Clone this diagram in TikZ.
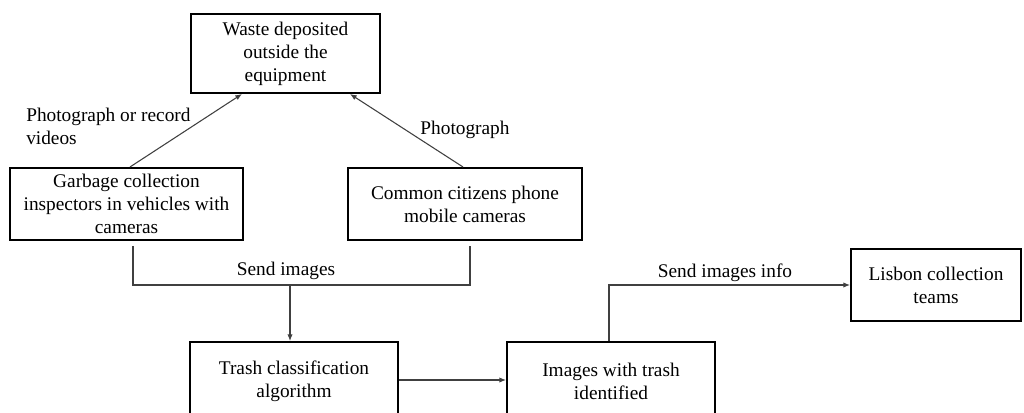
\documentclass[tikz,border=0pt]{standalone}
\usepackage{fontspec}
\setmainfont{Liberation Serif}
\usetikzlibrary{arrows.meta,calc}
\begin{document}
\begin{tikzpicture}[x=0.75pt,y=-0.75pt,
  box/.style={draw=black,line width=1.5pt,align=center,inner sep=2pt,
    font=\fontsize{14.5}{17.25}\selectfont},
  conn/.style={draw=black!75,line width=0.8pt},
  arr/.style={conn,-{Latex[length=5pt,width=4pt]}},
  lbl/.style={font=\fontsize{14.5}{17.25}\selectfont,inner sep=0pt}]
\useasboundingbox (0,0) rectangle (1024,413);
\clip (0,0) rectangle (1024,413);
\fill[white] (0,0) rectangle (1024,413);

\node[box,minimum width={189*0.75pt},minimum height={79*0.75pt}] (waste) at (285.5,53.5) {\raisebox{-2pt}{\parbox{130pt}{\centering Waste deposited\\outside the\\equipment}}};
\node[box,minimum width={233*0.75pt},minimum height={72*0.75pt}] (garbage) at (126.5,204) {Garbage collection\\inspectors in vehicles with\\cameras};
\node[box,minimum width={234*0.75pt},minimum height={72*0.75pt}] (citizens) at (465,204) {Common citizens phone\\mobile cameras};
\node[box,minimum width={208*0.75pt},minimum height={78*0.75pt}] (trash) at (294,381) {Trash classification\\algorithm};
\node[box,minimum width={208*0.75pt},minimum height={78*0.75pt}] (images) at (611,381) {Images with trash\\identified};
\node[box,minimum width={170*0.75pt},minimum height={72*0.75pt}] (lisbon) at (936,285) {Lisbon collection\\teams};

\coordinate (j) at (290,285);

\draw[arr] ([xshift={3.5*0.75pt}]garbage.north) -- ([xshift={-43.5*0.75pt}]waste.south);
\draw[arr] ([xshift={-2*0.75pt}]citizens.north) -- ([xshift={64.5*0.75pt}]waste.south);
\draw[conn] ([xshift={6.5*0.75pt},yshift={-5*0.75pt}]garbage.south) |- (j) -| ([xshift={5*0.75pt},yshift={-5*0.75pt}]citizens.south);
\draw[arr] (j) -- (j |- trash.north);
\draw[arr] (trash.east |- 0,380) -- (images.west |- 0,380);
\draw[arr] ([xshift={-2*0.75pt}]images.north) |- (lisbon.west);

\node[lbl,align=left,anchor=west] (l1) at (26,126) {Photograph or record\\videos};
\node[lbl] (l2) at (465,130) {Photograph};
\node[lbl] (l3) at (286,271) {Send images};
\node[lbl] (l4) at (725,273) {Send images info};
\end{tikzpicture}
\end{document}
